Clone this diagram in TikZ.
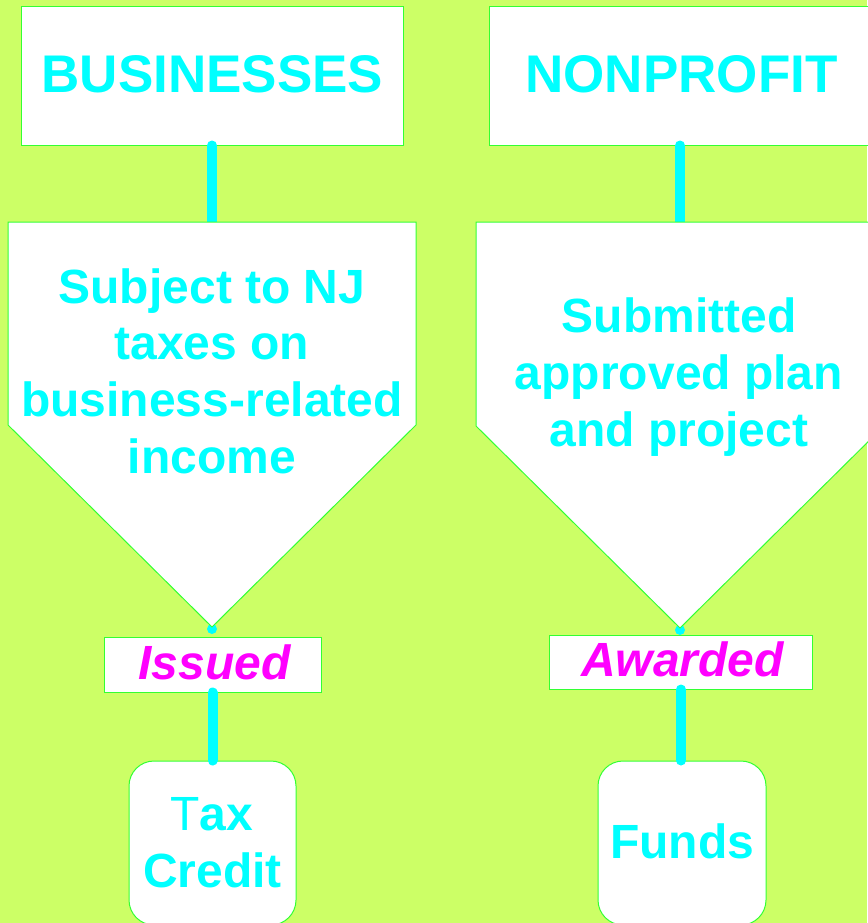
\documentclass[tikz,border=0pt]{standalone}
\usepackage{fontspec}
\setmainfont{Liberation Sans}
\definecolor{bg}{RGB}{204,255,102}
\definecolor{edge}{RGB}{51,255,51}
\definecolor{cy}{RGB}{0,255,255}
\definecolor{mg}{RGB}{255,0,255}
\begin{document}
\begin{tikzpicture}[x=1pt,y=-1pt,
  box/.style={draw=edge, fill=white, line width=1pt, inner sep=0pt},
  pent/.style={draw=edge, fill=white, line width=1pt},
  conn/.style={draw=cy, line width=10pt, line cap=round},
  head/.style={text=cy, font=\fontsize{53}{60}\selectfont\bfseries, anchor=base, inner sep=0pt},
  body/.style={text=cy, font=\fontsize{48}{56.6}\selectfont\bfseries, align=center, anchor=north, inner sep=0pt},
  lab/.style={text=mg, font=\fontsize{48}{56}\selectfont\bfseries\itshape, anchor=base, inner sep=0pt},
  res/.style={text=cy, font=\fontsize{48}{57}\selectfont\bfseries, anchor=base, inner sep=0pt}]
\useasboundingbox (0,0) rectangle (867,923);
\fill[bg] (0,0) rectangle (867,923);

% top boxes
\node[box, minimum width=382pt, minimum height=138.5pt] (bus) at (212,75.75) {};
\node[box, minimum width=382pt, minimum height=138.5pt] (np) at (680,75.75) {};
\node[head] (bust) at (212.5,92.7) {BUSINESSES};
\node[head] (npt) at (681.5,92.7) {NONPROFIT};

% pentagon corners
\coordinate (p1top) at (212,222);
\coordinate (p1apex) at (212,627);
\coordinate (p2top) at (680,222);
\coordinate (p2apex) at (680,628);

% upper connectors
\draw[conn] (bus.south) -- (p1top);
\draw[conn] (np.south) -- (p2top);
\fill[cy] (p1apex) ++(0,2) circle (5);
\fill[cy] (p2apex) ++(0,2) circle (5);

% pentagons
\draw[pent] (8,222) -- (416,222) -- (416,425) -- (p1apex) -- (8,425) -- cycle;
\draw[pent] (476,222) -- (884,222) -- (884,426) -- (p2apex) -- (476,426) -- cycle;
\node[body] (p1t) at (212,263) {\rule{0pt}{40pt}Subject to NJ\\taxes on\\business-related\\income};
\node[body] (p2t) at (679,292.7) {\rule{0pt}{40pt}Submitted\\approved plan\\and project};

% middle labels
\node[box, minimum width=217pt, minimum height=55pt] (iss) at (212.5,664.5) {};
\node[box, minimum width=263pt, minimum height=54pt] (aw) at (681,662) {};
\node[lab] (isst) at (214.5,679) {Issued};
\node[lab] (awt) at (682.5,676) {Awarded};

% bottom boxes
\node[box, rounded corners=25pt, minimum width=167pt, minimum height=164pt] (tax) at (212.5,843) {};
\node[box, rounded corners=25pt, minimum width=168pt, minimum height=164pt] (fund) at (682,843) {};
\node[res] (taxt1) at (212,830.7) {{\mdseries T}ax};
\node[res] (taxt2) at (212.5,887.7) {Credit};
\node[res] (fundt) at (682,858.3) {Funds};

% lower connectors
\draw[conn] (iss.south) -- (tax.north);
\draw[conn] (aw.south) -- (aw.south |- fund.north);
\end{tikzpicture}
\end{document}
